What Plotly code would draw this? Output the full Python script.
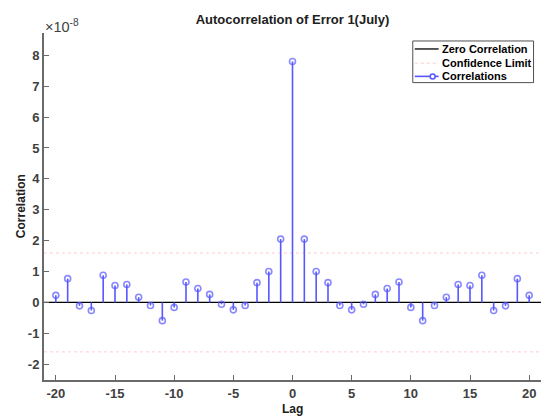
import plotly.graph_objects as go

# Lags and sample autocorrelation of the July error series (units of 1e-8)
lags = list(range(-20, 21))
acf_right = [7.80, 2.05, 1.00, 0.64, -0.10, -0.24, -0.06, 0.26, 0.45, 0.66, -0.16,
             -0.59, -0.10, 0.17, 0.58, 0.55, 0.88, -0.26, -0.11, 0.77, 0.23]
acf_scaled = acf_right[:0:-1] + acf_right  # symmetric about lag 0
scale = 1e-8
conf_limit = 1.6  # confidence bound (units of 1e-8)

y_ticks = [-2, -1, 0, 1, 2, 3, 4, 5, 6, 7, 8]
x_ticks = [-20, -15, -10, -5, 0, 5, 10, 15, 20]
x_range = [-21, 21]
y_range = [-2.51, 8.72]

legend_names = ["Zero Correlation", "Confidence Limit", "Correlations"]

acf = [v * scale for v in acf_scaled]

zero_color = "black"
conf_color = "#ffcccc"
stem_color = "#5757ff"

fig = go.Figure()

# zero reference line
fig.add_trace(go.Scatter(
    x=x_range, y=[0, 0], mode="lines", name=legend_names[0], showlegend=False,
    line=dict(color=zero_color, width=1.3), hoverinfo="skip"))

# upper / lower confidence bounds
fig.add_trace(go.Scatter(
    x=[x_range[0], x_range[1], None, x_range[0], x_range[1]],
    y=[conf_limit * scale, conf_limit * scale, None, -conf_limit * scale, -conf_limit * scale],
    mode="lines", name=legend_names[1], showlegend=False,
    line=dict(color=conf_color, width=1, dash="dot"), hoverinfo="skip"))

# stems with a circle at the tip
sx, sy, ss = [], [], []
for lag, v in zip(lags, acf):
    sx += [lag, lag, None]
    sy += [0, v, None]
    ss += [0, 6, 0]
fig.add_trace(go.Scatter(
    x=sx, y=sy, mode="lines+markers", name=legend_names[2], showlegend=False,
    line=dict(color=stem_color, width=1.6),
    marker=dict(symbol="circle-open", size=ss, color=stem_color,
                line=dict(width=1.6, color=stem_color))))

axis_color = "#6a6a6a"
tick_font = dict(family="Arial", size=13, color="#404040", weight="bold")

fig.update_xaxes(
    range=x_range, tickvals=x_ticks, ticktext=[str(t) for t in x_ticks],
    showgrid=False, zeroline=False, showline=True, linecolor=axis_color, linewidth=2,
    ticks="inside", ticklen=5, tickcolor=axis_color, tickwidth=1, tickfont=tick_font)
fig.update_yaxes(
    range=[y_range[0] * scale, y_range[1] * scale],
    tickvals=[t * scale for t in y_ticks], ticktext=[str(t) for t in y_ticks],
    showgrid=False, zeroline=False, showline=True, linecolor=axis_color, linewidth=2,
    ticks="inside", ticklen=5, tickcolor=axis_color, tickwidth=1, tickfont=tick_font)

# compact boxed legend in the upper right corner (paper coordinates)
box = dict(x0=0.742, x1=0.985, y0=0.857, y1=0.977)
rows_y = [0.954, 0.913, 0.875]
sample_x = (0.746, 0.794)
text_x = 0.796
row_styles = [
    dict(color=zero_color, width=1.3),
    dict(color=conf_color, width=1, dash="dot"),
    dict(color=stem_color, width=1.6),
]

shapes = [dict(type="rect", xref="paper", yref="paper", **box,
               line=dict(color="#505050", width=1), fillcolor="white", layer="above")]
annotations = []
for name, ry, style in zip(legend_names, rows_y, row_styles):
    shapes.append(dict(type="line", xref="paper", yref="paper",
                       x0=sample_x[0], x1=sample_x[1], y0=ry, y1=ry,
                       line=style, layer="above"))
    annotations.append(dict(text=name, x=text_x, y=ry, xref="paper", yref="paper",
                            xanchor="left", yanchor="middle", showarrow=False,
                            font=dict(family="Arial", size=11, color="black",
                                      weight="bold")))
# circle marker on the Correlations sample
shapes.append(dict(type="circle", xref="paper", yref="paper",
                   xsizemode="pixel", ysizemode="pixel",
                   xanchor=0.782, yanchor=rows_y[2],
                   x0=-2.5, x1=2.5, y0=-2.5, y1=2.5,
                   line=dict(color=stem_color, width=1.5), fillcolor="white",
                   layer="above"))

annotations += [
    dict(text="×10<sup>-8</sup>", x=-0.003, y=1.02, xref="paper", yref="paper",
         xanchor="left", yanchor="middle", showarrow=False,
         font=dict(family="Arial", size=14.5, color="#404040")),
    dict(text="Correlation", x=-0.047, y=0.5, xref="paper", yref="paper",
         xanchor="center", yanchor="middle", textangle=-90, showarrow=False,
         font=dict(family="Arial", size=12, color="#202020", weight="bold")),
    dict(text="Lag", x=0.5, y=-0.085, xref="paper", yref="paper",
         xanchor="center", yanchor="middle", showarrow=False,
         font=dict(family="Arial", size=12, color="#202020", weight="bold")),
]

fig.update_layout(
    width=546, height=416,
    margin=dict(l=44, r=5, t=33, b=36, autoexpand=False),
    paper_bgcolor="white", plot_bgcolor="white",
    font=dict(family="Arial", color="#202020"),
    title=dict(text="Autocorrelation of Error 1(July)", x=0.5, xref="paper",
               y=1 - 19 / 416, yref="container", yanchor="middle", xanchor="center",
               font=dict(family="Arial", size=13, color="#202020", weight="bold")),
    showlegend=False,
    shapes=shapes,
    annotations=annotations,
)

fig.write_html("out.html")
